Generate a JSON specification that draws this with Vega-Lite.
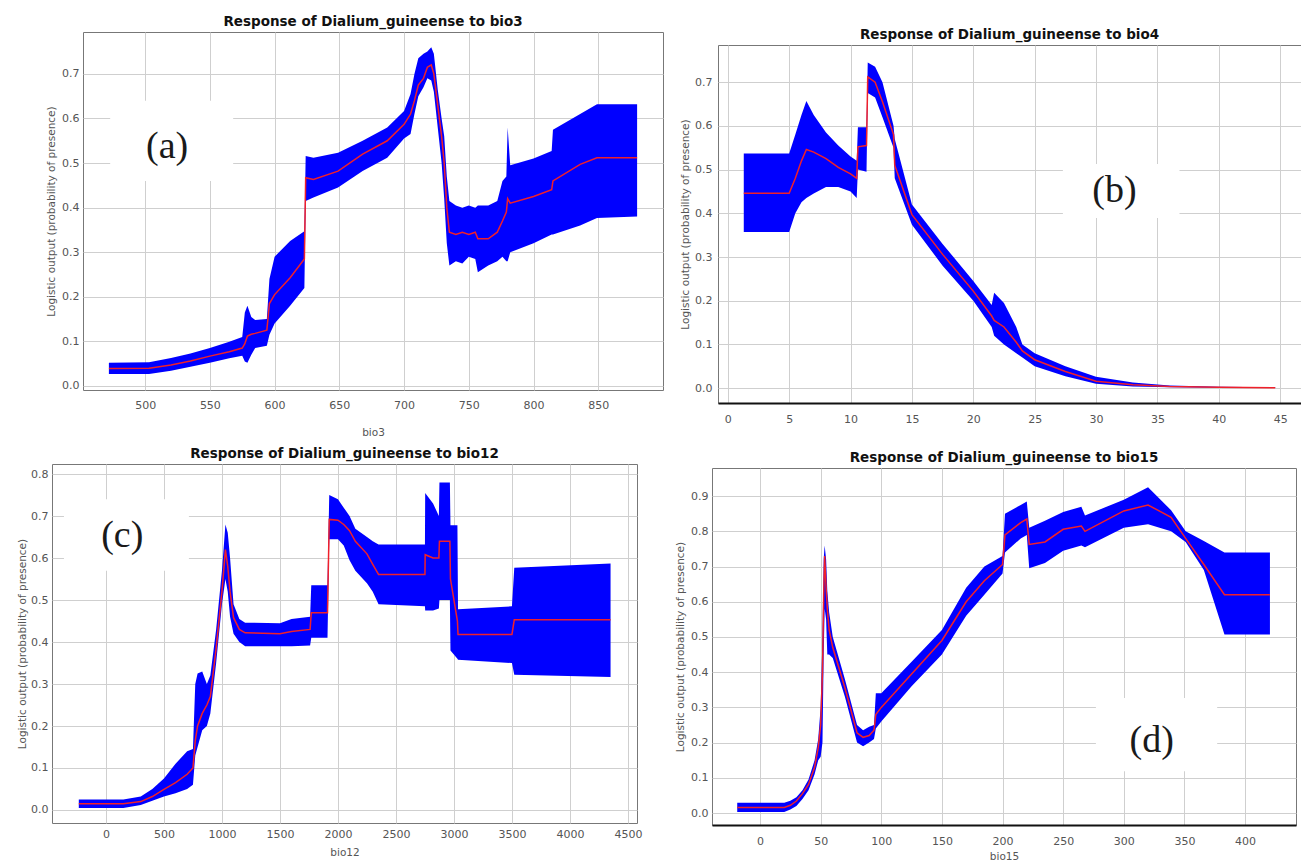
{
  "$schema": "https://vega.github.io/schema/vega-lite/v6.json",
  "background": "white",
  "padding": {"left": 16, "top": 13, "right": 0, "bottom": 0},
  "config": {
    "view": {"stroke": "#777", "strokeWidth": 1},
    "title": {"font": "DejaVu Sans", "fontSize": 13.5, "fontWeight": "bold", "color": "#111", "anchor": "middle", "offset": 4},
    "axis": {"labelFont": "DejaVu Sans", "labelFontSize": 11, "labelColor": "#555", "titleFont": "DejaVu Sans", "titleFontSize": 10.5, "titleFontWeight": "normal", "titleColor": "#555", "gridColor": "#cfcfcf", "gridWidth": 1, "ticks": false, "domain": false},
    "axisY": {"labelPadding": 4, "titlePadding": 5}
  },
  "spacing": 7,
  "vconcat": [
    {
      "spacing": 0,
      "hconcat": [
        {"width": 30, "height": 1, "data": {"values": []}, "mark": "point", "view": {"stroke": null}},
        {
          "spacing": 16,
          "hconcat": [
            {
              "spacing": 0,
              "vconcat": [
                {"width": 1, "height": 1, "data": {"values": []}, "mark": "point", "view": {"stroke": null}},
                {
                  "width": 580, "height": 358,
                  "title": {"text": "Response of Dialium_guineense to bio3"},
                  "layer": [
                    {
                      "data": {"values": [{"x1": 473, "x2": 568, "y1": 0.46, "y2": 0.64}]},
                      "mark": {"type": "rect", "color": "white"},
                      "encoding": {
                        "x": {"field": "x1", "type": "quantitative", "scale": {"domain": [452, 900], "nice": false, "zero": false}, "axis": {"values": [500, 550, 600, 650, 700, 750, 800, 850], "title": "bio3", "labelPadding": 9, "titlePadding": 17}},
                        "x2": {"field": "x2"},
                        "y": {"field": "y1", "type": "quantitative", "scale": {"domain": [-0.009, 0.794], "nice": false, "zero": false}, "axis": {"values": [0, 0.1, 0.2, 0.3, 0.4, 0.5, 0.6, 0.7], "format": ".1f", "title": "Logistic output (probability of presence)"}},
                        "y2": {"field": "y2"}
                      }
                    },
                    {
                      "data": {"values": [
                        {"x": 472, "lo": 0.027, "hi": 0.052, "m": 0.039},
                        {"x": 503, "lo": 0.027, "hi": 0.053, "m": 0.040},
                        {"x": 520, "lo": 0.034, "hi": 0.063, "m": 0.047},
                        {"x": 535, "lo": 0.043, "hi": 0.073, "m": 0.056},
                        {"x": 550, "lo": 0.052, "hi": 0.085, "m": 0.067},
                        {"x": 565, "lo": 0.062, "hi": 0.099, "m": 0.077},
                        {"x": 575, "lo": 0.068, "hi": 0.11, "m": 0.085},
                        {"x": 577, "lo": 0.055, "hi": 0.165, "m": 0.095},
                        {"x": 579, "lo": 0.052, "hi": 0.18, "m": 0.112},
                        {"x": 582, "lo": 0.07, "hi": 0.155, "m": 0.116},
                        {"x": 585, "lo": 0.085, "hi": 0.148, "m": 0.118},
                        {"x": 594, "lo": 0.09, "hi": 0.15, "m": 0.125},
                        {"x": 596, "lo": 0.115, "hi": 0.24, "m": 0.185},
                        {"x": 600, "lo": 0.14, "hi": 0.29, "m": 0.205},
                        {"x": 612, "lo": 0.18, "hi": 0.325, "m": 0.243},
                        {"x": 623, "lo": 0.22, "hi": 0.347, "m": 0.285},
                        {"x": 624, "lo": 0.415, "hi": 0.516, "m": 0.467},
                        {"x": 630, "lo": 0.423, "hi": 0.512, "m": 0.463},
                        {"x": 649, "lo": 0.445, "hi": 0.523, "m": 0.482},
                        {"x": 668, "lo": 0.482, "hi": 0.55, "m": 0.52},
                        {"x": 687, "lo": 0.512, "hi": 0.58, "m": 0.55},
                        {"x": 700, "lo": 0.555, "hi": 0.617, "m": 0.587},
                        {"x": 705, "lo": 0.565, "hi": 0.655, "m": 0.61},
                        {"x": 708, "lo": 0.61, "hi": 0.70, "m": 0.64},
                        {"x": 711, "lo": 0.65, "hi": 0.735, "m": 0.675},
                        {"x": 715, "lo": 0.67, "hi": 0.745, "m": 0.69},
                        {"x": 718, "lo": 0.69, "hi": 0.75, "m": 0.715},
                        {"x": 721, "lo": 0.685, "hi": 0.76, "m": 0.72},
                        {"x": 723, "lo": 0.66, "hi": 0.745, "m": 0.70},
                        {"x": 726, "lo": 0.58, "hi": 0.665, "m": 0.63},
                        {"x": 729, "lo": 0.5, "hi": 0.6, "m": 0.56},
                        {"x": 731, "lo": 0.42, "hi": 0.56, "m": 0.50},
                        {"x": 733, "lo": 0.32, "hi": 0.47, "m": 0.40},
                        {"x": 735, "lo": 0.27, "hi": 0.415, "m": 0.345},
                        {"x": 740, "lo": 0.28, "hi": 0.405, "m": 0.34},
                        {"x": 745, "lo": 0.275, "hi": 0.40, "m": 0.345},
                        {"x": 750, "lo": 0.29, "hi": 0.405, "m": 0.34},
                        {"x": 755, "lo": 0.285, "hi": 0.40, "m": 0.345},
                        {"x": 757, "lo": 0.255, "hi": 0.405, "m": 0.33},
                        {"x": 765, "lo": 0.27, "hi": 0.405, "m": 0.33},
                        {"x": 772, "lo": 0.28, "hi": 0.415, "m": 0.345},
                        {"x": 776, "lo": 0.29, "hi": 0.46, "m": 0.37},
                        {"x": 779, "lo": 0.28, "hi": 0.47, "m": 0.39},
                        {"x": 780, "lo": 0.28, "hi": 0.58, "m": 0.42},
                        {"x": 782, "lo": 0.30, "hi": 0.495, "m": 0.41},
                        {"x": 800, "lo": 0.32, "hi": 0.51, "m": 0.425},
                        {"x": 814, "lo": 0.34, "hi": 0.527, "m": 0.44},
                        {"x": 815, "lo": 0.34, "hi": 0.575, "m": 0.46},
                        {"x": 836, "lo": 0.36, "hi": 0.61, "m": 0.497},
                        {"x": 849, "lo": 0.377, "hi": 0.632, "m": 0.512},
                        {"x": 880, "lo": 0.38, "hi": 0.632, "m": 0.512}
                      ]},
                      "layer": [
                        {
                          "mark": {"type": "area", "color": "#0000ff", "opacity": 1},
                          "encoding": {
                            "x": {"field": "x", "type": "quantitative", "scale": {"domain": [452, 900], "nice": false, "zero": false}, "axis": {"values": [500, 550, 600, 650, 700, 750, 800, 850], "title": "bio3", "labelPadding": 9, "titlePadding": 17}},
                            "y": {"field": "lo", "type": "quantitative", "scale": {"domain": [-0.009, 0.794], "nice": false, "zero": false}, "axis": {"values": [0, 0.1, 0.2, 0.3, 0.4, 0.5, 0.6, 0.7], "format": ".1f", "title": "Logistic output (probability of presence)"}},
                            "y2": {"field": "hi"}
                          }
                        },
                        {
                          "mark": {"type": "line", "color": "#f0202a", "strokeWidth": 1.5},
                          "encoding": {
                            "x": {"field": "x", "type": "quantitative", "scale": {"domain": [452, 900], "nice": false, "zero": false}, "axis": {"values": [500, 550, 600, 650, 700, 750, 800, 850], "title": "bio3", "labelPadding": 9, "titlePadding": 17}},
                            "y": {"field": "m", "type": "quantitative", "scale": {"domain": [-0.009, 0.794], "nice": false, "zero": false}, "axis": {"values": [0, 0.1, 0.2, 0.3, 0.4, 0.5, 0.6, 0.7], "format": ".1f", "title": "Logistic output (probability of presence)"}}
                          }
                        }
                      ]
                    },
                    {
                      "data": {"values": [{"x": 517, "y": 0.536, "t": "(a)"}]},
                      "mark": {"type": "text", "font": "Liberation Serif", "fontSize": 38, "color": "#1a1a1a", "baseline": "middle", "align": "center"},
                      "encoding": {
                        "x": {"field": "x", "type": "quantitative", "scale": {"domain": [452, 900], "nice": false, "zero": false}, "axis": {"values": [500, 550, 600, 650, 700, 750, 800, 850], "title": "bio3", "labelPadding": 9, "titlePadding": 17}},
                        "y": {"field": "y", "type": "quantitative", "scale": {"domain": [-0.009, 0.794], "nice": false, "zero": false}, "axis": {"values": [0, 0.1, 0.2, 0.3, 0.4, 0.5, 0.6, 0.7], "format": ".1f", "title": "Logistic output (probability of presence)"}},
                        "text": {"field": "t"}
                      }
                    }
                  ]
                }
              ]
            },
            {
              "spacing": 0,
              "vconcat": [
                {"width": 1, "height": 14, "data": {"values": []}, "mark": "point", "view": {"stroke": null}},
                {
                  "width": 583, "height": 358,
                  "title": {"text": "Response of Dialium_guineense to bio4"},
                  "layer": [
                    {
                      "data": {"values": [{"x1": 27.3, "x2": 36.8, "y1": 0.389, "y2": 0.513}]},
                      "mark": {"type": "rect", "color": "white"},
                      "encoding": {
                        "x": {"field": "x1", "type": "quantitative", "scale": {"domain": [-0.8, 46.7], "nice": false, "zero": false}, "axis": {"values": [0, 5, 10, 15, 20, 25, 30, 35, 40, 45], "title": null, "labelPadding": 10, "domain": true, "domainColor": "#111", "domainWidth": 2}},
                        "x2": {"field": "x2"},
                        "y": {"field": "y1", "type": "quantitative", "scale": {"domain": [-0.034, 0.785], "nice": false, "zero": false}, "axis": {"values": [0, 0.1, 0.2, 0.3, 0.4, 0.5, 0.6, 0.7], "format": ".1f", "title": "Logistic output (probability of presence)", "labelPadding": 6, "titlePadding": 4}},
                        "y2": {"field": "y2"}
                      }
                    },
                    {
                      "data": {"values": [
                        {"x": 1.3, "lo": 0.357, "hi": 0.537, "m": 0.446},
                        {"x": 5.0, "lo": 0.357, "hi": 0.537, "m": 0.446},
                        {"x": 5.5, "lo": 0.40, "hi": 0.58, "m": 0.48},
                        {"x": 6.0, "lo": 0.425, "hi": 0.625, "m": 0.52},
                        {"x": 6.4, "lo": 0.435, "hi": 0.657, "m": 0.546},
                        {"x": 7.0, "lo": 0.445, "hi": 0.625, "m": 0.54},
                        {"x": 8.0, "lo": 0.46, "hi": 0.585, "m": 0.525},
                        {"x": 9.0, "lo": 0.46, "hi": 0.555, "m": 0.505},
                        {"x": 10.0, "lo": 0.45, "hi": 0.53, "m": 0.49},
                        {"x": 10.5, "lo": 0.435, "hi": 0.52, "m": 0.48},
                        {"x": 10.6, "lo": 0.50, "hi": 0.597, "m": 0.552},
                        {"x": 11.3, "lo": 0.495, "hi": 0.597, "m": 0.555},
                        {"x": 11.4, "lo": 0.675, "hi": 0.745, "m": 0.712},
                        {"x": 12.0, "lo": 0.665, "hi": 0.735, "m": 0.70},
                        {"x": 12.6, "lo": 0.62, "hi": 0.70, "m": 0.655},
                        {"x": 13.5, "lo": 0.55, "hi": 0.60, "m": 0.58},
                        {"x": 13.6, "lo": 0.48, "hi": 0.57, "m": 0.51},
                        {"x": 15.0, "lo": 0.374, "hi": 0.42, "m": 0.397},
                        {"x": 17.5, "lo": 0.28, "hi": 0.33, "m": 0.306},
                        {"x": 20.0, "lo": 0.2, "hi": 0.245, "m": 0.222},
                        {"x": 21.5, "lo": 0.14, "hi": 0.19, "m": 0.165},
                        {"x": 21.7, "lo": 0.12, "hi": 0.218, "m": 0.155},
                        {"x": 22.5, "lo": 0.10, "hi": 0.195, "m": 0.14},
                        {"x": 23.5, "lo": 0.08, "hi": 0.14, "m": 0.105},
                        {"x": 24.0, "lo": 0.07, "hi": 0.1, "m": 0.085},
                        {"x": 25.0, "lo": 0.05, "hi": 0.08, "m": 0.065},
                        {"x": 27.5, "lo": 0.027, "hi": 0.05, "m": 0.038},
                        {"x": 30.0, "lo": 0.01, "hi": 0.026, "m": 0.016},
                        {"x": 33.0, "lo": 0.004, "hi": 0.013, "m": 0.008},
                        {"x": 36.0, "lo": 0.002, "hi": 0.006, "m": 0.004},
                        {"x": 40.0, "lo": 0.001, "hi": 0.003, "m": 0.002},
                        {"x": 44.6, "lo": 0.0005, "hi": 0.002, "m": 0.001}
                      ]},
                      "layer": [
                        {
                          "mark": {"type": "area", "color": "#0000ff", "opacity": 1},
                          "encoding": {
                            "x": {"field": "x", "type": "quantitative", "scale": {"domain": [-0.8, 46.7], "nice": false, "zero": false}, "axis": {"values": [0, 5, 10, 15, 20, 25, 30, 35, 40, 45], "title": null, "labelPadding": 10, "domain": true, "domainColor": "#111", "domainWidth": 2}},
                            "y": {"field": "lo", "type": "quantitative", "scale": {"domain": [-0.034, 0.785], "nice": false, "zero": false}, "axis": {"values": [0, 0.1, 0.2, 0.3, 0.4, 0.5, 0.6, 0.7], "format": ".1f", "title": "Logistic output (probability of presence)", "labelPadding": 6, "titlePadding": 4}},
                            "y2": {"field": "hi"}
                          }
                        },
                        {
                          "mark": {"type": "line", "color": "#f0202a", "strokeWidth": 1.5},
                          "encoding": {
                            "x": {"field": "x", "type": "quantitative", "scale": {"domain": [-0.8, 46.7], "nice": false, "zero": false}, "axis": {"values": [0, 5, 10, 15, 20, 25, 30, 35, 40, 45], "title": null, "labelPadding": 10, "domain": true, "domainColor": "#111", "domainWidth": 2}},
                            "y": {"field": "m", "type": "quantitative", "scale": {"domain": [-0.034, 0.785], "nice": false, "zero": false}, "axis": {"values": [0, 0.1, 0.2, 0.3, 0.4, 0.5, 0.6, 0.7], "format": ".1f", "title": "Logistic output (probability of presence)", "labelPadding": 6, "titlePadding": 4}}
                          }
                        }
                      ]
                    },
                    {
                      "data": {"values": [{"x": 31.5, "y": 0.45, "t": "(b)"}]},
                      "mark": {"type": "text", "font": "Liberation Serif", "fontSize": 38, "color": "#1a1a1a", "baseline": "middle", "align": "center"},
                      "encoding": {
                        "x": {"field": "x", "type": "quantitative", "scale": {"domain": [-0.8, 46.7], "nice": false, "zero": false}, "axis": {"values": [0, 5, 10, 15, 20, 25, 30, 35, 40, 45], "title": null, "labelPadding": 10, "domain": true, "domainColor": "#111", "domainWidth": 2}},
                        "y": {"field": "y", "type": "quantitative", "scale": {"domain": [-0.034, 0.785], "nice": false, "zero": false}, "axis": {"values": [0, 0.1, 0.2, 0.3, 0.4, 0.5, 0.6, 0.7], "format": ".1f", "title": "Logistic output (probability of presence)", "labelPadding": 6, "titlePadding": 4}},
                        "text": {"field": "t"}
                      }
                    }
                  ]
                }
              ]
            }
          ]
        }
      ]
    },
    {
      "spacing": 0,
      "hconcat": [
        {"width": 1, "height": 1, "data": {"values": []}, "mark": "point", "view": {"stroke": null}},
        {
          "spacing": 32,
          "hconcat": [
            {
              "spacing": 0,
              "vconcat": [
                {"width": 1, "height": 1, "data": {"values": []}, "mark": "point", "view": {"stroke": null}},
                {
                  "width": 585, "height": 359,
                  "title": {"text": "Response of Dialium_guineense to bio12"},
                  "layer": [
                    {
                      "data": {"values": [{"x1": -362, "x2": 715, "y1": 0.57, "y2": 0.74}]},
                      "mark": {"type": "rect", "color": "white"},
                      "encoding": {
                        "x": {"field": "x1", "type": "quantitative", "scale": {"domain": [-465, 4578], "nice": false, "zero": false}, "axis": {"values": [0, 500, 1000, 1500, 2000, 2500, 3000, 3500, 4000, 4500], "format": "d", "title": "bio12", "labelPadding": 5, "titlePadding": 8}},
                        "x2": {"field": "x2"},
                        "y": {"field": "y1", "type": "quantitative", "scale": {"domain": [-0.031, 0.824], "nice": false, "zero": false}, "axis": {"values": [0, 0.1, 0.2, 0.3, 0.4, 0.5, 0.6, 0.7, 0.8], "format": ".1f", "title": "Logistic output (probability of presence)", "titlePadding": 3}},
                        "y2": {"field": "y2"}
                      }
                    },
                    {
                      "data": {"values": [
                        {"x": -234, "lo": 0.005, "hi": 0.025, "m": 0.015},
                        {"x": 150, "lo": 0.005, "hi": 0.025, "m": 0.015},
                        {"x": 300, "lo": 0.012, "hi": 0.032, "m": 0.02},
                        {"x": 400, "lo": 0.022, "hi": 0.05, "m": 0.032},
                        {"x": 500, "lo": 0.032, "hi": 0.075, "m": 0.049},
                        {"x": 600, "lo": 0.04, "hi": 0.11, "m": 0.065},
                        {"x": 700, "lo": 0.05, "hi": 0.14, "m": 0.085},
                        {"x": 750, "lo": 0.06, "hi": 0.145, "m": 0.10},
                        {"x": 770, "lo": 0.13, "hi": 0.30, "m": 0.165},
                        {"x": 790, "lo": 0.15, "hi": 0.325, "m": 0.2},
                        {"x": 830, "lo": 0.19, "hi": 0.33, "m": 0.23},
                        {"x": 870, "lo": 0.2, "hi": 0.3, "m": 0.25},
                        {"x": 900, "lo": 0.23, "hi": 0.32, "m": 0.27},
                        {"x": 950, "lo": 0.35, "hi": 0.43, "m": 0.385},
                        {"x": 1000, "lo": 0.49, "hi": 0.57, "m": 0.52},
                        {"x": 1030, "lo": 0.55, "hi": 0.68, "m": 0.62},
                        {"x": 1050, "lo": 0.52, "hi": 0.66, "m": 0.58},
                        {"x": 1070, "lo": 0.46, "hi": 0.60, "m": 0.52},
                        {"x": 1100, "lo": 0.42, "hi": 0.49, "m": 0.458},
                        {"x": 1150, "lo": 0.40, "hi": 0.455, "m": 0.43},
                        {"x": 1200, "lo": 0.39, "hi": 0.446, "m": 0.422},
                        {"x": 1500, "lo": 0.39, "hi": 0.445, "m": 0.42},
                        {"x": 1600, "lo": 0.39, "hi": 0.455, "m": 0.425},
                        {"x": 1760, "lo": 0.392, "hi": 0.46, "m": 0.43},
                        {"x": 1770, "lo": 0.41, "hi": 0.535, "m": 0.47},
                        {"x": 1910, "lo": 0.41, "hi": 0.535, "m": 0.47},
                        {"x": 1925, "lo": 0.645, "hi": 0.75, "m": 0.692},
                        {"x": 2000, "lo": 0.645, "hi": 0.74, "m": 0.69},
                        {"x": 2050, "lo": 0.63, "hi": 0.72, "m": 0.68},
                        {"x": 2100, "lo": 0.595, "hi": 0.70, "m": 0.665},
                        {"x": 2150, "lo": 0.57, "hi": 0.67, "m": 0.64},
                        {"x": 2250, "lo": 0.54, "hi": 0.65, "m": 0.61},
                        {"x": 2300, "lo": 0.52, "hi": 0.64, "m": 0.585},
                        {"x": 2350, "lo": 0.49, "hi": 0.632, "m": 0.561},
                        {"x": 2750, "lo": 0.485, "hi": 0.632, "m": 0.561},
                        {"x": 2752, "lo": 0.475, "hi": 0.755, "m": 0.608},
                        {"x": 2820, "lo": 0.475, "hi": 0.73, "m": 0.60},
                        {"x": 2870, "lo": 0.48, "hi": 0.70, "m": 0.60},
                        {"x": 2875, "lo": 0.50, "hi": 0.78, "m": 0.64},
                        {"x": 2965, "lo": 0.50, "hi": 0.78, "m": 0.64},
                        {"x": 2970, "lo": 0.38, "hi": 0.678, "m": 0.55},
                        {"x": 3030, "lo": 0.36, "hi": 0.678, "m": 0.45},
                        {"x": 3035, "lo": 0.358, "hi": 0.478, "m": 0.418},
                        {"x": 3500, "lo": 0.35, "hi": 0.485, "m": 0.418},
                        {"x": 3520, "lo": 0.322, "hi": 0.577, "m": 0.453},
                        {"x": 4350, "lo": 0.317, "hi": 0.587, "m": 0.453}
                      ]},
                      "layer": [
                        {
                          "mark": {"type": "area", "color": "#0000ff", "opacity": 1},
                          "encoding": {
                            "x": {"field": "x", "type": "quantitative", "scale": {"domain": [-465, 4578], "nice": false, "zero": false}, "axis": {"values": [0, 500, 1000, 1500, 2000, 2500, 3000, 3500, 4000, 4500], "format": "d", "title": "bio12", "labelPadding": 5, "titlePadding": 8}},
                            "y": {"field": "lo", "type": "quantitative", "scale": {"domain": [-0.031, 0.824], "nice": false, "zero": false}, "axis": {"values": [0, 0.1, 0.2, 0.3, 0.4, 0.5, 0.6, 0.7, 0.8], "format": ".1f", "title": "Logistic output (probability of presence)", "titlePadding": 3}},
                            "y2": {"field": "hi"}
                          }
                        },
                        {
                          "mark": {"type": "line", "color": "#f0202a", "strokeWidth": 1.5},
                          "encoding": {
                            "x": {"field": "x", "type": "quantitative", "scale": {"domain": [-465, 4578], "nice": false, "zero": false}, "axis": {"values": [0, 500, 1000, 1500, 2000, 2500, 3000, 3500, 4000, 4500], "format": "d", "title": "bio12", "labelPadding": 5, "titlePadding": 8}},
                            "y": {"field": "m", "type": "quantitative", "scale": {"domain": [-0.031, 0.824], "nice": false, "zero": false}, "axis": {"values": [0, 0.1, 0.2, 0.3, 0.4, 0.5, 0.6, 0.7, 0.8], "format": ".1f", "title": "Logistic output (probability of presence)", "titlePadding": 3}}
                          }
                        }
                      ]
                    },
                    {
                      "data": {"values": [{"x": 141, "y": 0.652, "t": "(c)"}]},
                      "mark": {"type": "text", "font": "Liberation Serif", "fontSize": 38, "color": "#1a1a1a", "baseline": "middle", "align": "center"},
                      "encoding": {
                        "x": {"field": "x", "type": "quantitative", "scale": {"domain": [-465, 4578], "nice": false, "zero": false}, "axis": {"values": [0, 500, 1000, 1500, 2000, 2500, 3000, 3500, 4000, 4500], "format": "d", "title": "bio12", "labelPadding": 5, "titlePadding": 8}},
                        "y": {"field": "y", "type": "quantitative", "scale": {"domain": [-0.031, 0.824], "nice": false, "zero": false}, "axis": {"values": [0, 0.1, 0.2, 0.3, 0.4, 0.5, 0.6, 0.7, 0.8], "format": ".1f", "title": "Logistic output (probability of presence)", "titlePadding": 3}},
                        "text": {"field": "t"}
                      }
                    }
                  ]
                }
              ]
            },
            {
              "spacing": 0,
              "vconcat": [
                {"width": 1, "height": 5, "data": {"values": []}, "mark": "point", "view": {"stroke": null}},
                {
                  "width": 584, "height": 357,
                  "title": {"text": "Response of Dialium_guineense to bio15"},
                  "layer": [
                    {
                      "data": {"values": [{"x1": 277, "x2": 377, "y1": 0.119, "y2": 0.327}]},
                      "mark": {"type": "rect", "color": "white"},
                      "encoding": {
                        "x": {"field": "x1", "type": "quantitative", "scale": {"domain": [-39.6, 442], "nice": false, "zero": false}, "axis": {"values": [0, 50, 100, 150, 200, 250, 300, 350, 400], "title": "bio15", "labelPadding": 10, "titlePadding": 5, "domain": true, "domainColor": "#111", "domainWidth": 2}},
                        "x2": {"field": "x2"},
                        "y": {"field": "y1", "type": "quantitative", "scale": {"domain": [-0.034, 0.98], "nice": false, "zero": false}, "axis": {"values": [0, 0.1, 0.2, 0.3, 0.4, 0.5, 0.6, 0.7, 0.8, 0.9], "format": ".1f", "title": "Logistic output (probability of presence)"}},
                        "y2": {"field": "y2"}
                      }
                    },
                    {
                      "data": {"values": [
                        {"x": -18.8, "lo": 0.003, "hi": 0.029, "m": 0.016},
                        {"x": 20, "lo": 0.003, "hi": 0.029, "m": 0.016},
                        {"x": 25, "lo": 0.01, "hi": 0.035, "m": 0.022},
                        {"x": 30, "lo": 0.02, "hi": 0.045, "m": 0.034},
                        {"x": 35, "lo": 0.04, "hi": 0.065, "m": 0.055},
                        {"x": 40, "lo": 0.065, "hi": 0.095, "m": 0.081},
                        {"x": 45, "lo": 0.11, "hi": 0.15, "m": 0.13},
                        {"x": 48, "lo": 0.15, "hi": 0.21, "m": 0.186},
                        {"x": 50, "lo": 0.16, "hi": 0.30, "m": 0.25},
                        {"x": 51.5, "lo": 0.20, "hi": 0.50, "m": 0.40},
                        {"x": 52.5, "lo": 0.45, "hi": 0.72, "m": 0.62},
                        {"x": 53.3, "lo": 0.58, "hi": 0.76, "m": 0.73},
                        {"x": 54.5, "lo": 0.55, "hi": 0.72, "m": 0.64},
                        {"x": 55.5, "lo": 0.45, "hi": 0.63, "m": 0.58},
                        {"x": 57, "lo": 0.45, "hi": 0.57, "m": 0.52},
                        {"x": 60, "lo": 0.44, "hi": 0.50, "m": 0.47},
                        {"x": 70, "lo": 0.33, "hi": 0.38, "m": 0.356},
                        {"x": 80, "lo": 0.20, "hi": 0.25, "m": 0.228},
                        {"x": 85, "lo": 0.19, "hi": 0.235, "m": 0.215},
                        {"x": 90, "lo": 0.20, "hi": 0.245, "m": 0.22},
                        {"x": 94, "lo": 0.21, "hi": 0.25, "m": 0.235},
                        {"x": 95.5, "lo": 0.24, "hi": 0.34, "m": 0.28},
                        {"x": 100, "lo": 0.26, "hi": 0.34, "m": 0.30},
                        {"x": 125, "lo": 0.36, "hi": 0.43, "m": 0.395},
                        {"x": 150, "lo": 0.45, "hi": 0.52, "m": 0.49},
                        {"x": 170, "lo": 0.56, "hi": 0.64, "m": 0.60},
                        {"x": 185, "lo": 0.62, "hi": 0.70, "m": 0.66},
                        {"x": 200, "lo": 0.68, "hi": 0.73, "m": 0.706},
                        {"x": 202, "lo": 0.74, "hi": 0.85, "m": 0.79},
                        {"x": 215, "lo": 0.78, "hi": 0.875, "m": 0.825},
                        {"x": 220, "lo": 0.79, "hi": 0.885, "m": 0.835},
                        {"x": 222, "lo": 0.695, "hi": 0.81, "m": 0.763},
                        {"x": 235, "lo": 0.71, "hi": 0.83, "m": 0.77},
                        {"x": 250, "lo": 0.745, "hi": 0.855, "m": 0.806},
                        {"x": 265, "lo": 0.76, "hi": 0.87, "m": 0.815},
                        {"x": 268, "lo": 0.755, "hi": 0.845, "m": 0.80},
                        {"x": 300, "lo": 0.81, "hi": 0.89, "m": 0.858},
                        {"x": 320, "lo": 0.82, "hi": 0.925, "m": 0.875},
                        {"x": 339, "lo": 0.80, "hi": 0.86, "m": 0.84},
                        {"x": 351, "lo": 0.77, "hi": 0.80, "m": 0.78},
                        {"x": 366, "lo": 0.69, "hi": 0.773, "m": 0.706},
                        {"x": 383, "lo": 0.507, "hi": 0.74, "m": 0.62},
                        {"x": 420.5, "lo": 0.507, "hi": 0.74, "m": 0.62}
                      ]},
                      "layer": [
                        {
                          "mark": {"type": "area", "color": "#0000ff", "opacity": 1},
                          "encoding": {
                            "x": {"field": "x", "type": "quantitative", "scale": {"domain": [-39.6, 442], "nice": false, "zero": false}, "axis": {"values": [0, 50, 100, 150, 200, 250, 300, 350, 400], "title": "bio15", "labelPadding": 10, "titlePadding": 5, "domain": true, "domainColor": "#111", "domainWidth": 2}},
                            "y": {"field": "lo", "type": "quantitative", "scale": {"domain": [-0.034, 0.98], "nice": false, "zero": false}, "axis": {"values": [0, 0.1, 0.2, 0.3, 0.4, 0.5, 0.6, 0.7, 0.8, 0.9], "format": ".1f", "title": "Logistic output (probability of presence)"}},
                            "y2": {"field": "hi"}
                          }
                        },
                        {
                          "mark": {"type": "line", "color": "#f0202a", "strokeWidth": 1.5},
                          "encoding": {
                            "x": {"field": "x", "type": "quantitative", "scale": {"domain": [-39.6, 442], "nice": false, "zero": false}, "axis": {"values": [0, 50, 100, 150, 200, 250, 300, 350, 400], "title": "bio15", "labelPadding": 10, "titlePadding": 5, "domain": true, "domainColor": "#111", "domainWidth": 2}},
                            "y": {"field": "m", "type": "quantitative", "scale": {"domain": [-0.034, 0.98], "nice": false, "zero": false}, "axis": {"values": [0, 0.1, 0.2, 0.3, 0.4, 0.5, 0.6, 0.7, 0.8, 0.9], "format": ".1f", "title": "Logistic output (probability of presence)"}}
                          }
                        }
                      ]
                    },
                    {
                      "data": {"values": [{"x": 323, "y": 0.205, "t": "(d)"}]},
                      "mark": {"type": "text", "font": "Liberation Serif", "fontSize": 38, "color": "#1a1a1a", "baseline": "middle", "align": "center"},
                      "encoding": {
                        "x": {"field": "x", "type": "quantitative", "scale": {"domain": [-39.6, 442], "nice": false, "zero": false}, "axis": {"values": [0, 50, 100, 150, 200, 250, 300, 350, 400], "title": "bio15", "labelPadding": 10, "titlePadding": 5, "domain": true, "domainColor": "#111", "domainWidth": 2}},
                        "y": {"field": "y", "type": "quantitative", "scale": {"domain": [-0.034, 0.98], "nice": false, "zero": false}, "axis": {"values": [0, 0.1, 0.2, 0.3, 0.4, 0.5, 0.6, 0.7, 0.8, 0.9], "format": ".1f", "title": "Logistic output (probability of presence)"}},
                        "text": {"field": "t"}
                      }
                    }
                  ]
                }
              ]
            }
          ]
        }
      ]
    }
  ]
}
